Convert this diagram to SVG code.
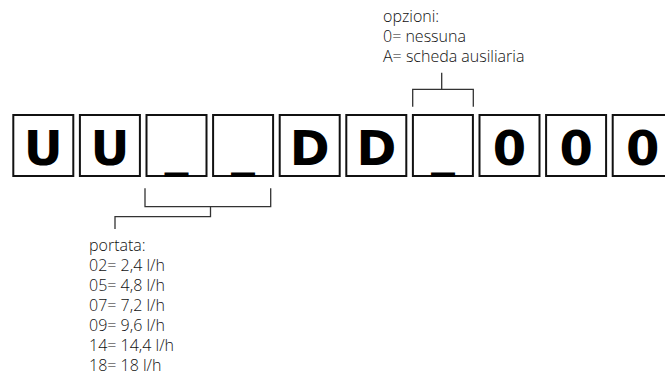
<svg xmlns="http://www.w3.org/2000/svg" width="665" height="381" viewBox="0 0 665 381">
<style>
.box{fill:#fff;stroke:#111;stroke-width:2}
.ch{font-family:"DejaVu Sans",sans-serif;font-weight:bold;font-size:48px;fill:#000;text-anchor:middle}
.us{font-family:"DejaVu Sans",sans-serif;font-weight:bold;font-size:48px;fill:#000;text-anchor:middle}
.lbl{font-family:"Open Sans",sans-serif;font-weight:300;font-size:16px;fill:#111}
.ln{fill:none;stroke:#333;stroke-width:1.3}
</style>
<rect width="665" height="381" fill="#fff"/>
<g id="c1"><rect class="box" x="13.3" y="115" width="60" height="61"/><text class="ch" x="43.3" y="165">U</text></g>
<g id="c2"><rect class="box" x="79.9" y="115" width="60" height="61"/><text class="ch" x="109.9" y="165">U</text></g>
<g id="c3"><rect class="box" x="146.5" y="115" width="60" height="61"/><text class="us" x="176.5" y="165.5">_</text></g>
<g id="c4"><rect class="box" x="213.1" y="115" width="60" height="61"/><text class="us" x="243.1" y="165.5">_</text></g>
<g id="c5"><rect class="box" x="279.7" y="115" width="60" height="61"/><text class="ch" x="309.7" y="165">D</text></g>
<g id="c6"><rect class="box" x="346.3" y="115" width="60" height="61"/><text class="ch" x="376.3" y="165">D</text></g>
<g id="c7"><rect class="box" x="412.9" y="115" width="60" height="61"/><text class="us" x="442.9" y="165.5">_</text></g>
<g id="c8"><rect class="box" x="479.5" y="115" width="60" height="61"/><text class="ch" x="509.5" y="165">0</text></g>
<g id="c9"><rect class="box" x="546.1" y="115" width="60" height="61"/><text class="ch" x="576.1" y="165">0</text></g>
<g id="c10"><rect class="box" x="612.7" y="115" width="60" height="61"/><text class="ch" x="642.7" y="165">0</text></g>
<g id="connectors">
<path class="ln" d="M145 188.3V206.7H270.7V188.3M210.5 206.7V216.7H115V229"/>
<path class="ln" d="M441.7 72.7V89.3M412.7 106.7V89.3H473.3V106.7"/>
</g>
<g id="opzioni">
<text class="lbl" x="383" y="21.7">opzioni:</text>
<text class="lbl" x="383" y="42">0= nessuna</text>
<text class="lbl" x="383" y="62.3">A= scheda ausiliaria</text>
</g>
<g id="portata">
<text class="lbl" x="89" y="251.3">portata:</text>
<text class="lbl" x="89" y="271.3">02= 2,4 l/h</text>
<text class="lbl" x="89" y="291.3">05= 4,8 l/h</text>
<text class="lbl" x="89" y="311.3">07= 7,2 l/h</text>
<text class="lbl" x="89" y="331.3">09= 9,6 l/h</text>
<text class="lbl" x="89" y="351.3">14= 14,4 l/h</text>
<text class="lbl" x="89" y="371.3">18= 18 l/h</text>
</g>
</svg>
